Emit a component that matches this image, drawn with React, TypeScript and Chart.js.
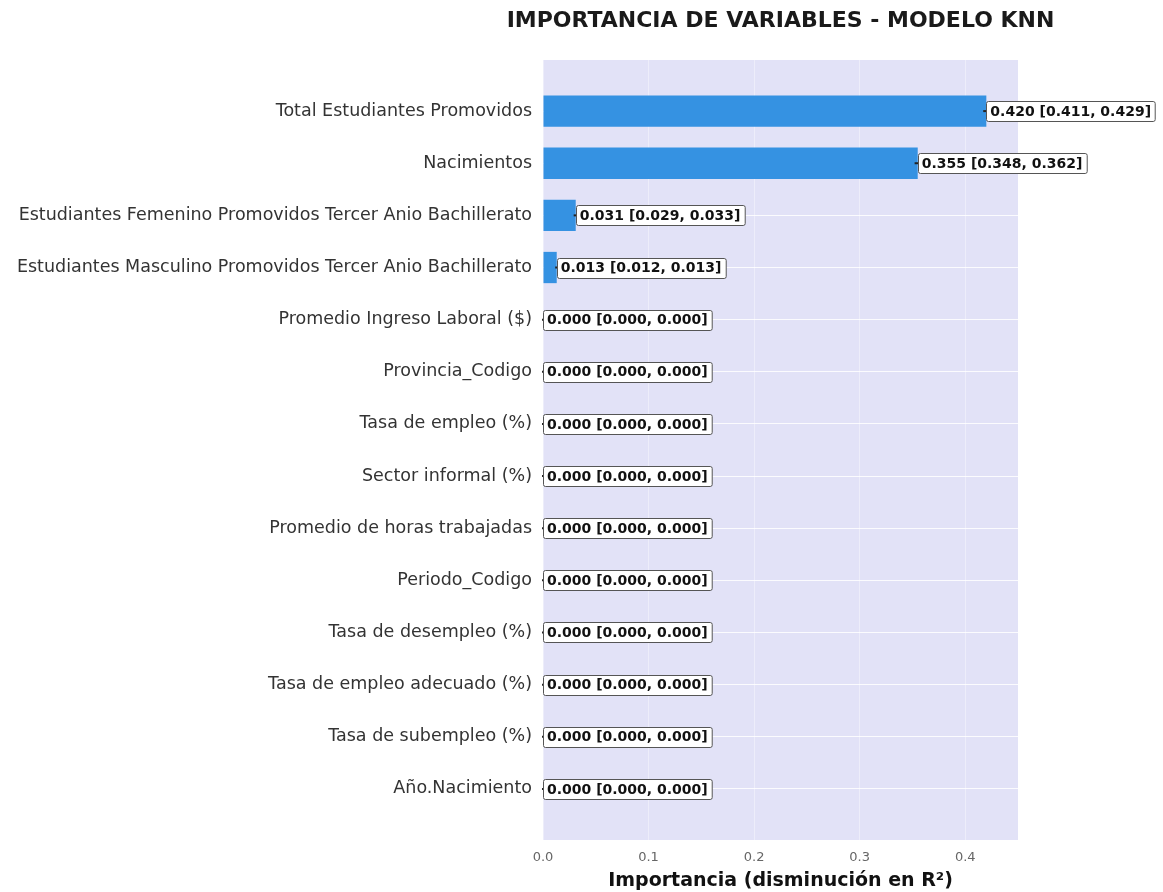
import React, { useEffect, useRef } from "react";
import { Chart, registerables } from "chart.js";

Chart.register(...registerables);

const labels = [
  "Total Estudiantes Promovidos",
  "Nacimientos",
  "Estudiantes Femenino Promovidos Tercer Anio Bachillerato",
  "Estudiantes Masculino Promovidos Tercer Anio Bachillerato",
  "Promedio Ingreso Laboral ($)",
  "Provincia_Codigo",
  "Tasa de empleo (%)",
  "Sector informal (%)",
  "Promedio de horas trabajadas",
  "Periodo_Codigo",
  "Tasa de desempleo (%)",
  "Tasa de empleo adecuado (%)",
  "Tasa de subempleo (%)",
  "Año.Nacimiento",
];

const importance = [0.42, 0.355, 0.031, 0.013, 0, 0, 0, 0, 0, 0, 0, 0, 0, 0];
const ciLow = [0.411, 0.348, 0.029, 0.012, 0, 0, 0, 0, 0, 0, 0, 0, 0, 0];
const ciHigh = [0.429, 0.362, 0.033, 0.013, 0, 0, 0, 0, 0, 0, 0, 0, 0, 0];
const errStd = [0.002, 0.002, 0.001, 0.0005, 0, 0, 0, 0, 0, 0, 0, 0, 0, 0];
const xTicks = [0, 0.1, 0.2, 0.3, 0.4];

const TITLE = "IMPORTANCIA DE VARIABLES - MODELO KNN";
const X_TITLE = "Importancia (disminución en R²)";
const FONT = "'DejaVu Sans', sans-serif";

export default function App() {
  const ref = useRef<HTMLCanvasElement | null>(null);

  useEffect(() => {
    const canvas = ref.current;
    if (!canvas) return;

    const bgPlugin = {
      id: "bgPlugin",
      beforeDraw(chart: any) {
        const { ctx, chartArea } = chart;
        ctx.save();
        ctx.fillStyle = "#e2e2f7";
        ctx.fillRect(chartArea.left, chartArea.top, chartArea.right - chartArea.left, chartArea.bottom - chartArea.top);
        ctx.restore();
      },
      afterDraw(chart: any) {
        const { ctx, chartArea } = chart;
        ctx.save();
        ctx.font = `bold 22px ${FONT}`;
        ctx.fillStyle = "#1a1a1a";
        ctx.textAlign = "center";
        ctx.textBaseline = "middle";
        ctx.fillText(TITLE, (chartArea.left + chartArea.right) / 2, 21);
        ctx.restore();
      },
    };

    const annotPlugin = {
      id: "annotPlugin",
      afterDatasetsDraw(chart: any) {
        const { ctx } = chart;
        const xs = chart.scales.x;
        const ys = chart.scales.y;
        ctx.save();
        importance.forEach((v, i) => {
          const y = ys.getPixelForValue(i);
          const e0 = xs.getPixelForValue(v - errStd[i]);
          const e1 = xs.getPixelForValue(v + errStd[i]);
          ctx.strokeStyle = "#222";
          ctx.lineWidth = 2;
          ctx.beginPath();
          ctx.moveTo(e0 - 1, y);
          ctx.lineTo(e1 + 1, y);
          ctx.stroke();

          const text = `${v.toFixed(3)} [${ciLow[i].toFixed(3)}, ${ciHigh[i].toFixed(3)}]`;
          ctx.font = `bold 14px ${FONT}`;
          const w = ctx.measureText(text).width;
          const tx = xs.getPixelForValue(v) + 4;
          const bx = tx - 4;
          const bh = 20;
          const bw = w + 8;
          const by = Math.round(y - bh / 2);
          ctx.fillStyle = "#ffffff";
          ctx.strokeStyle = "#555";
          ctx.lineWidth = 1;
          ctx.beginPath();
          (ctx as any).roundRect(Math.round(bx) + 0.5, by + 0.5, bw, bh, 2);
          ctx.fill();
          ctx.stroke();
          ctx.fillStyle = "#111";
          ctx.textBaseline = "middle";
          ctx.textAlign = "left";
          ctx.fillText(text, tx, y + 1);
        });
        ctx.restore();
      },
    };

    const chart = new Chart(canvas, {
      type: "bar",
      data: {
        datasets: [
          {
            data: importance.map((v, i) => ({ x: v, y: i })),
            backgroundColor: "#3592e2",
            borderWidth: 0,
            barPercentage: 0.6,
            categoryPercentage: 1.0,
          },
        ],
      },
      options: {
        indexAxis: "y",
        responsive: false,
        animation: false,
        devicePixelRatio: 1,
        layout: { padding: { left: 0, right: 145, top: 60, bottom: 0 } },
        plugins: {
          legend: { display: false },
          tooltip: { enabled: false },
          title: { display: false },
        },
        scales: {
          x: {
            type: "linear",
            min: 0,
            max: 0.45,
            afterBuildTicks: (scale: any) => {
              scale.ticks = xTicks.map((v) => ({ value: v }));
            },
            afterFit: (scale: any) => {
              scale.height = 52;
            },
            ticks: {
              callback: (v: any) => Number(v).toFixed(1),
              color: "#666",
              font: { family: FONT, size: 13 },
              padding: 10,
            },
            grid: { color: "rgba(255,255,255,0.4)", lineWidth: 1, drawTicks: false },
            border: { display: false },
            title: {
              display: true,
              text: X_TITLE,
              color: "#111",
              font: { family: FONT, size: 19, weight: "bold" },
              padding: { top: 0, bottom: 0 },
            },
          },
          y: {
            type: "linear",
            reverse: true,
            offset: false,
            min: -0.98,
            max: 13.98,
            afterBuildTicks: (scale: any) => {
              scale.ticks = labels.map((_, i) => ({ value: i }));
            },
            afterFit: (scale: any) => {
              scale.width = 543;
            },
            ticks: {
              callback: (v: any) => labels[Number(v)] ?? "",
              color: "#333",
              font: { family: FONT, size: 17.5 },
              padding: 11,
              autoSkip: false,
            },
            grid: { color: "rgba(255,255,255,0.85)", lineWidth: 1, drawTicks: false, offset: false },
            border: { display: false },
          },
        },
      } as any,
      plugins: [bgPlugin, annotPlugin],
    });

    return () => chart.destroy();
  }, []);

  return (
    <div style={{ position: "absolute", left: 0, top: 0, width: 1163, height: 892, background: "#fff" }}>
      <canvas ref={ref} width={1163} height={892} />
    </div>
  );
}
